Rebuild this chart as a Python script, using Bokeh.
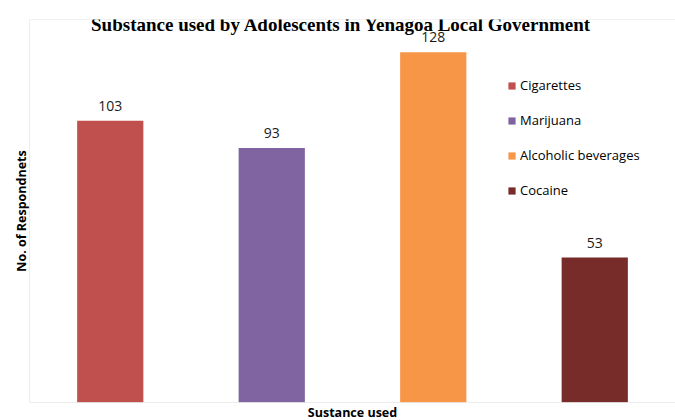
from bokeh.plotting import figure
from bokeh.models import ColumnDataSource, FactorRange, Range1d, Label, LabelSet, Title, Span
from bokeh.core.properties import value
from bokeh.embed import file_html
from bokeh.resources import INLINE

categories = ["Cigarettes", "Marijuana", "Alcoholic beverages", "Cocaine"]
respondents = [103, 93, 128, 53]
colors = ["#C0504D", "#8064A2", "#F79646", "#772C2A"]

src = ColumnDataSource(dict(cat=categories, n=respondents, color=colors,
                            lbl=[str(v) for v in respondents]))

p = figure(width=675, height=420,
           x_range=FactorRange(*categories, range_padding=0),
           y_range=Range1d(0, 140),
           output_backend="svg", toolbar_location=None,
           min_border_left=29, min_border_right=0, min_border_top=19, min_border_bottom=17)

p.vbar(x="cat", top="n", width=0.41, fill_color="color", line_color=None,
       source=src, legend_field="cat")

p.axis.visible = False
p.grid.visible = False
p.outline_line_color = None
p.background_fill_color = "white"

# frame lines (left, top, bottom)
p.add_layout(Span(location=0, dimension="width", line_color="#D9D9D9", line_width=1))
p.add_layout(Span(location=140, dimension="width", line_color="#E6E6E6", line_width=1))
p.add_layout(Span(location=0, dimension="height", line_color="#D9D9D9", line_width=1))

labels = LabelSet(x="cat", y="n", text="lbl", source=src, y_offset=10,
                  text_align="center", text_baseline="bottom",
                  text_font=value("Open Sans"), text_font_size=value("14px"),
                  text_color=value("#1a1a1a"))
p.add_layout(labels)

p.add_layout(Label(x=2, y=140, x_units="data", y_units="data", x_offset=-11, y_offset=-5,
                   text="Substance used by Adolescents in Yenagoa Local Government",
                   text_align="center", text_baseline="middle",
                   text_font="Liberation Serif", text_font_size="19px",
                   text_font_style="bold", text_color="#000000"))

p.add_layout(Title(text="Sustance used", align="center", text_font="Open Sans",
                   text_font_size="12.5px", text_font_style="bold", standoff=-1, offset=0,
                   text_color="#000000"), "below")

p.add_layout(Title(text="No. of Respondnets", align="center", text_font="Open Sans",
                   text_font_size="12.5px", text_font_style="bold", standoff=0, offset=0,
                   text_color="#000000"), "left")

lg = p.legend[0]
lg.location = (478, 202)
lg.label_text_font = "Open Sans"
lg.label_text_font_size = "13px"
lg.label_text_color = "#000000"
lg.glyph_width = 9
lg.glyph_height = 9
lg.label_height = 20
lg.spacing = 15
lg.padding = 0
lg.margin = 0
lg.label_standoff = 4
lg.border_line_color = None
lg.background_fill_alpha = 0

open("out.html", "w").write(file_html(p, INLINE))
